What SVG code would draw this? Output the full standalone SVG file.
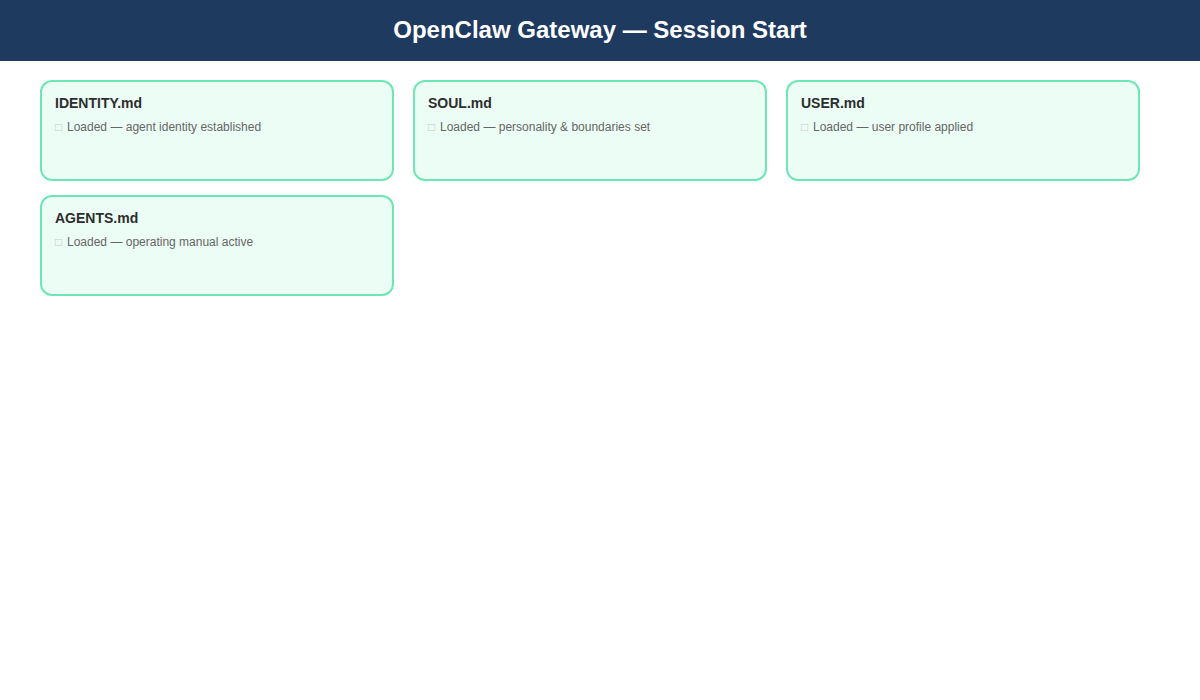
<svg xmlns="http://www.w3.org/2000/svg" width="1200" height="700" viewBox="0 0 1200 700">
<style>
.card{fill:#ecfdf5;stroke:#6ee7b7;stroke-width:2}
.t{font-family:"Liberation Sans",Arial,sans-serif;font-size:14px;font-weight:bold;fill:#2d2d2d}
.s{font-family:"Liberation Sans",Arial,sans-serif;font-size:12px;fill:#666}
.b{font-family:"Liberation Sans","DejaVu Sans",sans-serif;font-size:12px;fill:#c8c8c8}
.h{font-family:"Liberation Sans",Arial,sans-serif;font-size:24px;font-weight:bold;fill:#fff}
</style>
<rect x="0" y="0" width="1200" height="700" fill="#fff"/>
<rect x="0" y="0" width="1200" height="61" fill="#1e3a5f"/>
<text class="h" x="600" y="38" text-anchor="middle">OpenClaw Gateway — Session Start</text>
<g id="connectors"></g>
<g id="identity">
<rect class="card" x="41" y="81" width="352" height="99" rx="11"/>
<text class="t" x="55" y="108">IDENTITY.md</text>
<text class="b" x="55" y="131">□</text>
<text class="s" x="67" y="131">Loaded — agent identity established</text>
</g>
<g id="soul">
<rect class="card" x="414" y="81" width="352" height="99" rx="11"/>
<text class="t" x="428" y="108">SOUL.md</text>
<text class="b" x="428" y="131">□</text>
<text class="s" x="440" y="131">Loaded — personality &amp; boundaries set</text>
</g>
<g id="user">
<rect class="card" x="787" y="81" width="352" height="99" rx="11"/>
<text class="t" x="801" y="108">USER.md</text>
<text class="b" x="801" y="131">□</text>
<text class="s" x="813" y="131">Loaded — user profile applied</text>
</g>
<g id="agents">
<rect class="card" x="41" y="196" width="352" height="99" rx="11"/>
<text class="t" x="55" y="223">AGENTS.md</text>
<text class="b" x="55" y="246">□</text>
<text class="s" x="67" y="246">Loaded — operating manual active</text>
</g>
</svg>
